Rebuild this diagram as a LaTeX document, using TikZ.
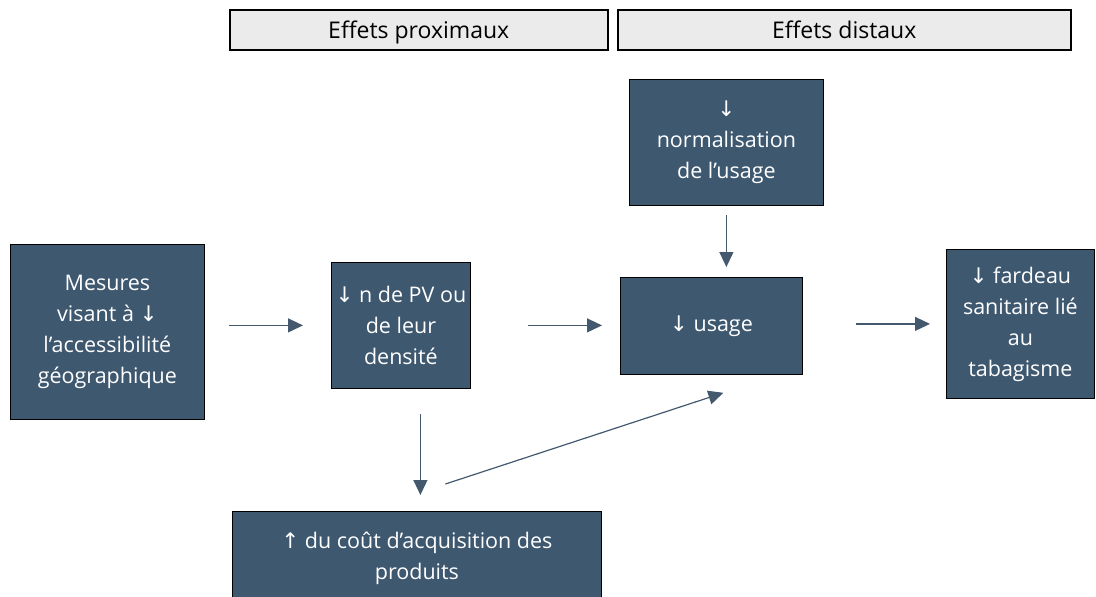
\documentclass[tikz,border=0pt]{standalone}
\usepackage{fontspec}
\setmainfont{Open Sans}
\newfontfamily\arrfont{DejaVu Sans}
\newcommand{\dnarr}{{\arrfont ↓}}
\newcommand{\uparr}{{\arrfont ↑}}
\usetikzlibrary{arrows.meta,calc}
\definecolor{boxfill}{HTML}{3E5870}
\definecolor{arrcol}{HTML}{44596E}
\definecolor{hdrfill}{HTML}{EBEBEB}
\begin{document}
\begin{tikzpicture}[x=1pt,y=-1pt,
  box/.style={draw=black, line width=0.8pt, fill=boxfill, text=white, align=center,
    inner sep=0pt, anchor=north west, font=\fontsize{21.5}{31}\selectfont},
  hdr/.style={draw=black, line width=1.5pt, fill=hdrfill, anchor=north west,
    inner sep=0pt, text height=18pt, text depth=0pt, font=\fontsize{23}{26}\selectfont},
  link/.style={draw=arrcol, line width=1.2pt, -{Triangle[length=15pt,width=14pt]}}]
\useasboundingbox (0,0) rectangle (1096,597);
\clip (0,0) rectangle (1096,597);
\node[hdr, minimum width=378pt, minimum height=40pt] (h1) at (229,9) {Effets proximaux};
\node[hdr, minimum width=453pt, minimum height=40pt] (h2) at (617,9) {Effets distaux};
\node[box, minimum width=194pt, minimum height=175pt] (A) at (10,244)
  {Mesures\\visant à \dnarr\\l’accessibilité\\géographique};
\node[box, minimum width=139pt, minimum height=126pt] (B) at (331,262)
  {\dnarr{} n de PV ou\\de leur\\densité};
\node[box, minimum width=194pt, minimum height=126pt] (N) at (629,79)
  {\dnarr\\normalisation\\de l’usage};
\node[box, minimum width=182pt, minimum height=97pt] (C) at (620,277)
  {\dnarr{} usage};
\node[box, minimum width=148pt, minimum height=149pt] (D) at (946,249)
  {\dnarr{} fardeau\\sanitaire lié\\au\\tabagisme};
\node[box, minimum width=369pt, minimum height=94pt] (E) at (232,511)
  {\uparr{} du coût d’acquisition des\\produits};
\draw[link, shorten <=24pt, shorten >=28pt] (A.east |- B.west) -- (B.west);
\draw[link, shorten <=57pt, shorten >=18pt] (B.east) -- (B.east -| C.west);
\draw[link, shorten <=53pt, shorten >=16pt] (C.east |- D.west) -- (D.west);
\draw[link, shorten <=9pt, shorten >=10pt] (N.south) -- (N.south |- C.north);
\coordinate (bs) at ($(B.south)+(19.5,0)$);
\draw[link, shorten <=25pt, shorten >=16pt] (bs) -- (bs |- E.north);
\coordinate (es) at ($(E.north)+(28.5,-27)$);
\coordinate (ce) at ($(C.south)+(12,18)$);
\draw[link] (es) -- (ce);
\end{tikzpicture}
\end{document}
